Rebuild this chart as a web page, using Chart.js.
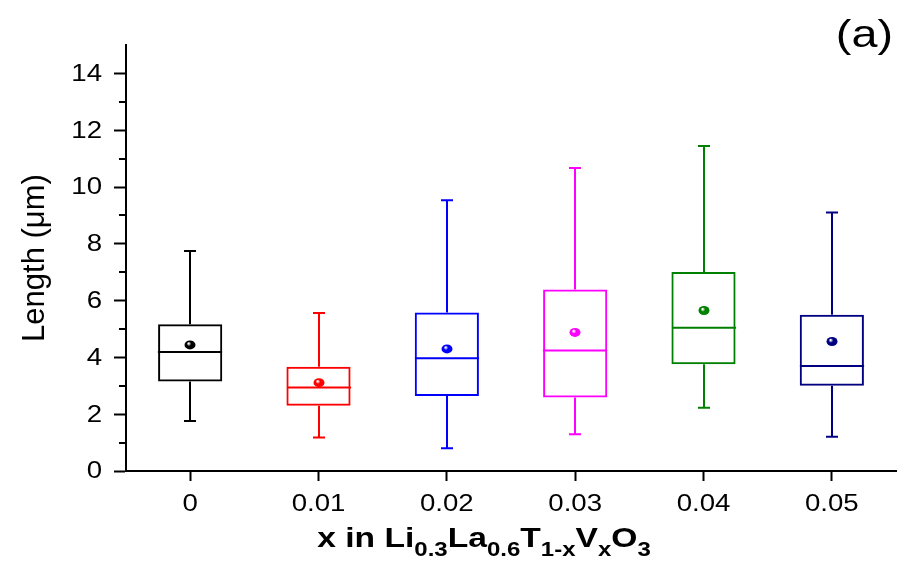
<!DOCTYPE html>
<html>
<head>
<meta charset="utf-8">
<script src="https://cdn.jsdelivr.net/npm/chart.js@4.4.1/dist/chart.umd.min.js"></script>
<style>
    html, body { margin: 0; padding: 0; background: #fff; }
    #wrap { width: 897px; height: 561px; position: relative; }
</style>
</head>
<body>
<div id="wrap"><canvas id="chart" width="897" height="561"></canvas></div>
<script>
const categories = ['0', '0.01', '0.02', '0.03', '0.04', '0.05']
const whiskerLow = [1.76, 1.18, 0.80, 1.29, 2.23, 1.21]
const q1 = [3.15, 2.30, 2.64, 2.59, 3.76, 3.00]
const median = [4.19, 2.94, 3.97, 4.24, 5.04, 3.70]
const q3 = [5.17, 3.67, 5.58, 6.39, 7.01, 5.50]
const whiskerHigh = [7.75, 5.56, 9.53, 10.67, 11.44, 9.10]
const means = [4.44, 3.11, 4.30, 4.88, 5.65, 4.56]
const colors = ['#000000', '#ff0000', '#0000ff', '#ff00ff', '#008000', '#000080']

const FONT = '"Liberation Sans", Arial, sans-serif'
const STRETCH = 1.2

const boxData = []
for (let i = 0; i < categories.length; i++) {
    boxData.push([q1[i], q3[i]])
}

// text drawn a bit wider than normal, like the original figure
function wideText(ctx, text, x, y, align) {
    const w = ctx.measureText(text).width * STRETCH
    let left = x
    if (align === 'center') left = x - w / 2
    if (align === 'right') left = x - w
    ctx.save()
    ctx.translate(left, y)
    ctx.scale(STRETCH, 1)
    ctx.textAlign = 'left'
    ctx.fillText(text, 0, 0)
    ctx.restore()
    return w
}

const boxPlugin = {
    id: 'boxParts',
    afterDatasetsDraw(chart) {
        const ctx = chart.ctx
        const xs = chart.scales.x
        const ys = chart.scales.y
        const bars = chart.getDatasetMeta(0).data
        ctx.save()
        ctx.lineWidth = 2
        for (let i = 0; i < categories.length; i++) {
            const cx = Math.round(xs.getPixelForValue(i))
            const half = bars[i].width / 2
            const cap = 6
            ctx.strokeStyle = colors[i]
            ctx.beginPath()
            ctx.moveTo(cx, ys.getPixelForValue(q3[i]))
            ctx.lineTo(cx, ys.getPixelForValue(whiskerHigh[i]))
            ctx.moveTo(cx, ys.getPixelForValue(q1[i]))
            ctx.lineTo(cx, ys.getPixelForValue(whiskerLow[i]))
            ctx.moveTo(cx - cap, ys.getPixelForValue(whiskerHigh[i]))
            ctx.lineTo(cx + cap, ys.getPixelForValue(whiskerHigh[i]))
            ctx.moveTo(cx - cap, ys.getPixelForValue(whiskerLow[i]))
            ctx.lineTo(cx + cap, ys.getPixelForValue(whiskerLow[i]))
            ctx.moveTo(cx - half, ys.getPixelForValue(median[i]))
            ctx.lineTo(cx + half, ys.getPixelForValue(median[i]))
            ctx.stroke()

            // mean ball
            const my = ys.getPixelForValue(means[i])
            const g = ctx.createRadialGradient(cx - 1.5, my - 1.5, 0.5, cx, my, 5.5)
            g.addColorStop(0, '#ffffff')
            g.addColorStop(0.35, colors[i])
            g.addColorStop(1, colors[i])
            ctx.fillStyle = g
            ctx.beginPath()
            ctx.ellipse(cx, my, 5.5, 4.5, 0, 0, Math.PI * 2)
            ctx.fill()
        }
        ctx.restore()
    },
    afterDraw(chart) {
        const ctx = chart.ctx
        const xs = chart.scales.x
        const ys = chart.scales.y
        ctx.save()
        // minor ticks on y
        ctx.strokeStyle = '#000'
        ctx.lineWidth = 2
        ctx.beginPath()
        for (let v = 1; v < 15; v += 2) {
            const py = Math.round(ys.getPixelForValue(v))
            ctx.moveTo(ys.right - 7, py)
            ctx.lineTo(ys.right, py)
        }
        ctx.stroke()

        // tick labels
        ctx.fillStyle = '#000'
        ctx.font = '23px ' + FONT
        ctx.textBaseline = 'middle'
        ys.ticks.forEach((t, i) => {
            wideText(ctx, String(t.value), ys.right - 24, ys.getPixelForTick(i) + 1, 'right')
        })
        ctx.textBaseline = 'alphabetic'
        categories.forEach((c, i) => {
            wideText(ctx, c, xs.getPixelForTick(i), 511, 'center')
        })

        // x axis title with subscripts
        const parts = [
            ['x in Li', false], ['0.3', true], ['La', false], ['0.6', true],
            ['T', false], ['1-x', true], ['V', false], ['x', true], ['O', false], ['3', true]
        ]
        const big = 'bold 28px ' + FONT
        const small = 'bold 20px ' + FONT
        let total = 0
        parts.forEach(p => {
            ctx.font = p[1] ? small : big
            total += ctx.measureText(p[0]).width * STRETCH
        })
        let x = 484 - total / 2
        const base = 547
        parts.forEach(p => {
            ctx.font = p[1] ? small : big
            x += wideText(ctx, p[0], x, p[1] ? base + 9 : base, 'left')
        })

        // panel label
        ctx.font = '39px ' + FONT
        wideText(ctx, '(a)', 893, 47, 'right')
        ctx.restore()
    }
}

new Chart(document.getElementById('chart'), {
    type: 'bar',
    data: {
        labels: categories,
        datasets: [{
            data: boxData,
            backgroundColor: 'rgba(0,0,0,0)',
            borderColor: colors,
            borderWidth: 2,
            borderSkipped: false,
            barPercentage: 0.5,
            categoryPercentage: 1
        }]
    },
    options: {
        responsive: false,
        animation: false,
        layout: { padding: { top: 45, right: 1, left: 0, bottom: 0 } },
        plugins: { legend: { display: false }, tooltip: { enabled: false } },
        scales: {
            x: {
                type: 'category',
                offset: true,
                grid: { display: true, drawOnChartArea: false, tickLength: 10, tickWidth: 2, tickColor: '#000', offset: false },
                border: { display: true, color: '#000', width: 2 },
                ticks: { display: false },
                afterFit(scale) { scale.height = 90 }
            },
            y: {
                min: 0,
                max: 15,
                grid: { display: true, drawOnChartArea: false, tickLength: 12, tickWidth: 2, tickColor: '#000' },
                border: { display: true, color: '#000', width: 2 },
                ticks: { stepSize: 2, display: false },
                afterBuildTicks(scale) {
                    scale.ticks = scale.ticks.filter(t => t.value % 2 === 0)
                },
                title: {
                    display: true,
                    text: 'Length (μm)',
                    color: '#000',
                    font: { family: FONT, size: 31 },
                    padding: { top: 17, bottom: 0 }
                },
                afterFit(scale) { scale.width = 126 }
            }
        }
    },
    plugins: [boxPlugin]
})
</script>
</body>
</html>
